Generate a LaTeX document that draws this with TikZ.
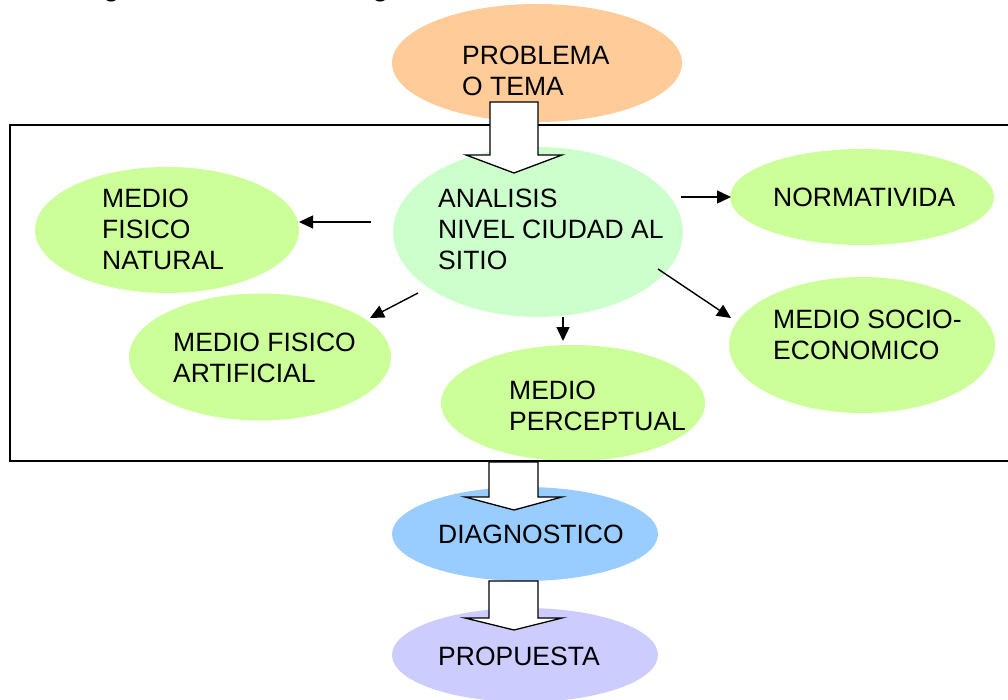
\documentclass[tikz,border=0pt]{standalone}
\usepackage{fontspec}
\setmainfont{Liberation Sans}
\usetikzlibrary{shapes.geometric,arrows.meta}
\definecolor{corange}{HTML}{FFCC99}
\definecolor{cmint}{HTML}{CCFFCC}
\definecolor{clime}{HTML}{CCFF99}
\definecolor{cblue}{HTML}{99CCFF}
\definecolor{clav}{HTML}{CCCCFF}
\tikzset{
  oval/.style={ellipse, draw=none, inner sep=0pt},
  lbl/.style={anchor=north west, inner sep=0pt, align=left,
     font=\fontsize{26.5}{31}\selectfont},
  thinarrow/.style={line width=1.4pt, -{Triangle[length=14pt,width=13pt]}},
  blockarrow/.style={draw=black, fill=white, line width=1.3pt, line join=miter},
  frame/.style={draw=black, line width=1.6pt}
}
\begin{document}
\begin{tikzpicture}[x=1pt,y=-1pt]
\useasboundingbox (0,0) rectangle (1008,700);
\clip (0,0) rectangle (1008,700);
\fill[white] (0,0) rectangle (1008,700);
% title (cut off at top)
\node[anchor=base west, inner sep=0pt, font=\fontsize{26}{30}\bfseries\selectfont] (title) at (-12,-3) {Metodología General de Investigación};
% ellipses
\node[oval, fill=corange, minimum width=290pt, minimum height=118pt] (prob) at (537,63) {};
\node[oval, fill=cmint, minimum width=290pt, minimum height=170pt] (anal) at (538,232) {};
\node[oval, fill=clime, minimum width=264pt, minimum height=126pt] (fnat) at (167,230) {};
\node[oval, fill=clime, minimum width=264pt, minimum height=96pt] (norm) at (862,197) {};
\node[oval, fill=clime, minimum width=262pt, minimum height=127pt] (fart) at (260,357) {};
\node[oval, fill=clime, minimum width=266pt, minimum height=136pt] (socio) at (862,345) {};
\node[oval, fill=clime, minimum width=264pt, minimum height=116pt] (perc) at (573,403) {};
\node[oval, fill=cblue, minimum width=266pt, minimum height=94pt] (diag) at (525,534) {};
\node[oval, fill=clav, minimum width=266pt, minimum height=94pt] (prop) at (525,655) {};
% frame
\draw[frame] (1020,125) -- (10,125) -- (10,461) -- (1020,461);
% thin arrows
\coordinate (aL0) at (371,222); \coordinate (aL1) at (299,222);
\coordinate (aR0) at (681,197); \coordinate (aR1) at (731,197);
\coordinate (aDL0) at (418,293); \coordinate (aDL1) at (370,318);
\coordinate (aD0) at (563,317); \coordinate (aD1) at (563,341);
\coordinate (aDR0) at (658,269); \coordinate (aDR1) at (731,318);
\draw[thinarrow] (aL0) -- (aL1);
\draw[thinarrow] (aR0) -- (aR1);
\draw[thinarrow] (aDL0) -- (aDL1);
\draw[thinarrow] (aD0) -- (aD1);
\draw[thinarrow] (aDR0) -- (aDR1);
% block arrows
\draw[blockarrow] (490,102) -- (538,102) -- (538,155) -- (562,155) -- (514,173) -- (466,155) -- (490,155) -- cycle;
\draw[blockarrow] (489,462) -- (538,462) -- (538,497) -- (562,497) -- (514,510) -- (465,497) -- (489,497) -- cycle;
\draw[blockarrow] (489,581) -- (538,581) -- (538,618) -- (562,618) -- (514,630) -- (465,618) -- (489,618) -- cycle;
% labels
\node[lbl] (tprob) at (462,45.5) {PROBLEMA\\O TEMA};
\node[lbl] (tanal) at (438,188.5) {ANALISIS\\NIVEL CIUDAD AL\\SITIO};
\node[lbl] (tfnat) at (102,188.5) {MEDIO\\FISICO\\NATURAL};
\node[lbl] (tnorm) at (773,187.5) {NORMATIVIDA};
\node[lbl] (tfart) at (173,332.5) {MEDIO FISICO\\ARTIFICIAL};
\node[lbl] (tsocio) at (773,309.5) {MEDIO SOCIO-\\ECONOMICO};
\node[lbl] (tperc) at (509,380.5) {MEDIO\\PERCEPTUAL};
\node[lbl] (tdiag) at (438,524.5) {DIAGNOSTICO};
\node[lbl] (tprop) at (438,646.5) {PROPUESTA};
\end{tikzpicture}
\end{document}
